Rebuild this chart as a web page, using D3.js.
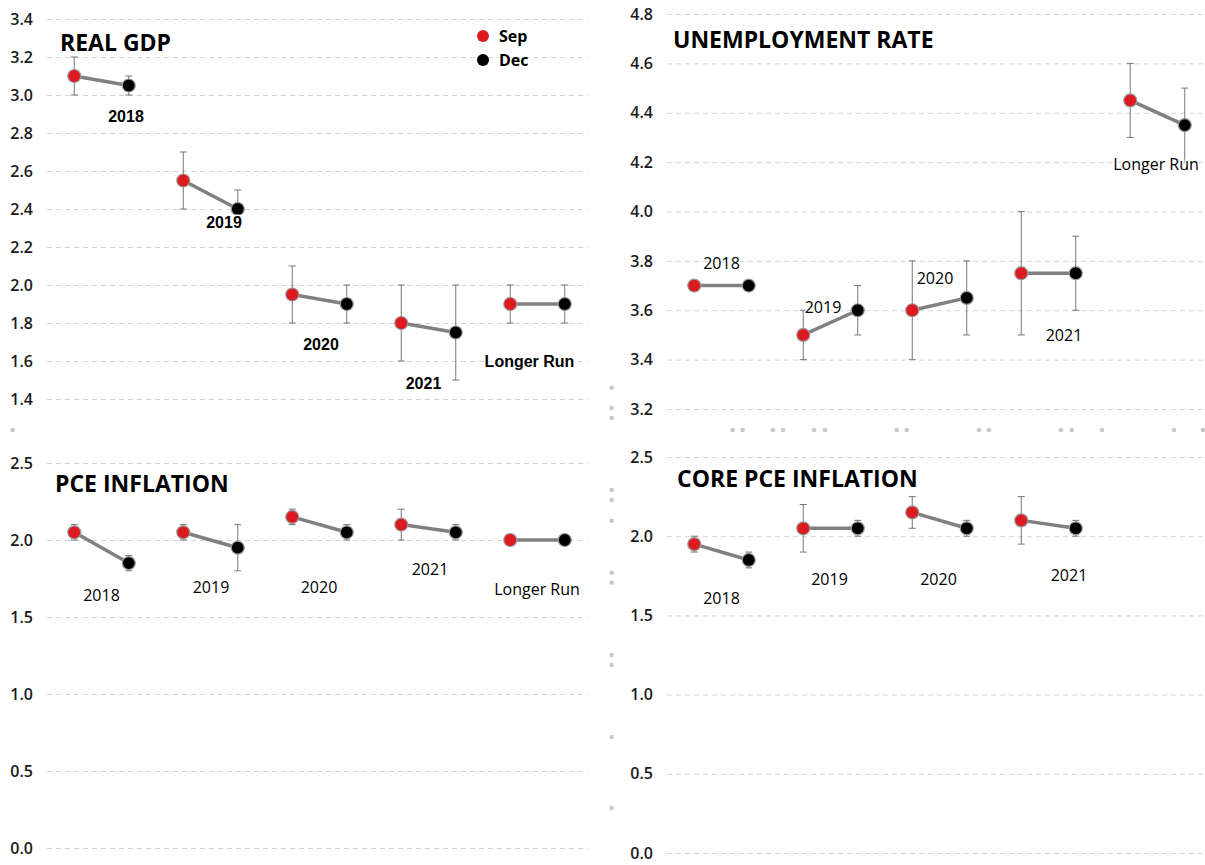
<!DOCTYPE html>
<html>
<head>
<meta charset="utf-8">
<script src="https://cdn.jsdelivr.net/npm/d3@7"></script>
<style>
  body { margin: 0; background: #fff; }
  svg { display: block; }
</style>
</head>
<body>
<div id="chart"></div>
<script>
// FOMC projections, September vs December (midpoint of central tendency + range)
const categories = ['2018', '2019', '2020', '2021', 'Longer Run'];
const releases = ['Sep', 'Dec'];

// Real GDP
const gdpSep = [3.1, 2.55, 1.95, 1.8, 1.9];
const gdpSepRange = [[3.0, 3.2], [2.4, 2.7], [1.8, 2.1], [1.6, 2.0], [1.8, 2.0]];
const gdpDec = [3.05, 2.4, 1.9, 1.75, 1.9];
const gdpDecRange = [[3.0, 3.1], [2.3, 2.5], [1.8, 2.0], [1.5, 2.0], [1.8, 2.0]];
const gdpTicks = [1.4, 1.6, 1.8, 2.0, 2.2, 2.4, 2.6, 2.8, 3.0, 3.2, 3.4];
const gdpLabelAt = [2.89, 2.33, 1.69, 1.48, 1.6];

// Unemployment rate
const unempSep = [3.7, 3.5, 3.6, 3.75, 4.45];
const unempSepRange = [[3.7, 3.7], [3.4, 3.6], [3.4, 3.8], [3.5, 4.0], [4.3, 4.6]];
const unempDec = [3.7, 3.6, 3.65, 3.75, 4.35];
const unempDecRange = [[3.7, 3.7], [3.5, 3.7], [3.5, 3.8], [3.6, 3.9], [4.2, 4.5]];
const unempTicks = [3.2, 3.4, 3.6, 3.8, 4.0, 4.2, 4.4, 4.6, 4.8];
const unempLabelAt = [3.79, 3.61, 3.73, 3.5, 4.19];

// PCE inflation
const pceSep = [2.05, 2.05, 2.15, 2.1, 2.0];
const pceSepRange = [[2.0, 2.1], [2.0, 2.1], [2.1, 2.2], [2.0, 2.2], [2.0, 2.0]];
const pceDec = [1.85, 1.95, 2.05, 2.05, 2.0];
const pceDecRange = [[1.8, 1.9], [1.8, 2.1], [2.0, 2.1], [2.0, 2.1], [2.0, 2.0]];
const pceTicks = [0.0, 0.5, 1.0, 1.5, 2.0, 2.5];
const pceLabelAt = [1.64, 1.69, 1.69, 1.81, 1.68];

// Core PCE inflation (no longer-run projection)
const coreSep = [1.95, 2.05, 2.15, 2.1, null];
const coreSepRange = [[1.9, 2.0], [1.9, 2.2], [2.05, 2.25], [1.95, 2.25], null];
const coreDec = [1.85, 2.05, 2.05, 2.05, null];
const coreDecRange = [[1.8, 1.9], [2.0, 2.1], [2.0, 2.1], [2.0, 2.1], null];
const coreTicks = [0.0, 0.5, 1.0, 1.5, 2.0, 2.5];
const coreLabelAt = [1.61, 1.73, 1.73, 1.75, null];

const RED = '#dc1a1f';
const FONT = '"Open Sans", "Noto Sans", sans-serif';

const svg = d3.select('#chart').append('svg')
    .attr('width', 1205)
    .attr('height', 865);

function drawPanel(p) {
    const g = svg.append('g');

    const x = d3.scaleBand().domain(categories).range(p.xRange);
    const sub = d3.scalePoint().domain(releases).range([0, x.bandwidth()]).padding(0.5);
    const y = d3.scaleLinear().domain(p.yDomain).range(p.yRange);

    // gridlines + tick labels
    const axis = d3.axisLeft(y).tickValues(p.ticks).tickFormat(d3.format('.1f'))
        .tickSize(-(p.gridEnd - p.xRange[0])).tickPadding(14);
    const ax = g.append('g').attr('transform', `translate(${p.xRange[0]},0)`).call(axis);
    ax.select('.domain').remove();
    ax.selectAll('.tick line')
        .attr('stroke', '#d4d4d4')
        .attr('stroke-dasharray', '5,4');
    ax.selectAll('.tick text')
        .attr('fill', '#1a1a1a')
        .style('font-family', FONT)
        .style('font-size', '16px')
        .style('font-weight', 600);

    // title
    g.append('text')
        .attr('x', p.titlePos[0]).attr('y', p.titlePos[1])
        .text(p.title)
        .style('font-family', FONT)
        .style('font-size', '23px')
        .style('font-weight', 700)
        .attr('fill', '#000');

    const rows = categories.map((c, i) => ({
        cat: c,
        sep: p.sep[i], sepR: p.sepR[i],
        dec: p.dec[i], decR: p.decR[i],
        lab: p.labelAt[i], dx: p.labelDx[i]
    })).filter(d => d.sep != null);

    const px = (d, r) => x(d.cat) + sub(r);

    // error bars
    rows.forEach(d => {
        [['Sep', d.sepR], ['Dec', d.decR]].forEach(([r, range]) => {
            const cx = px(d, r);
            const eb = g.append('g').attr('stroke', '#777').attr('stroke-width', 1);
            eb.append('line').attr('x1', cx).attr('x2', cx).attr('y1', y(range[0])).attr('y2', y(range[1]));
            range.forEach(v => {
                eb.append('line').attr('x1', cx - 3.5).attr('x2', cx + 3.5).attr('y1', y(v)).attr('y2', y(v));
            });
        });
    });

    // connecting lines
    g.selectAll('.conn').data(rows).join('line')
        .attr('x1', d => px(d, 'Sep')).attr('y1', d => y(d.sep))
        .attr('x2', d => px(d, 'Dec')).attr('y2', d => y(d.dec))
        .attr('stroke', '#808080')
        .attr('stroke-width', 3.5);

    // points
    g.selectAll('.sep').data(rows).join('circle')
        .attr('cx', d => px(d, 'Sep')).attr('cy', d => y(d.sep))
        .attr('r', 6.5).attr('fill', RED).attr('stroke', '#999').attr('stroke-width', 1.2);
    g.selectAll('.dec').data(rows).join('circle')
        .attr('cx', d => px(d, 'Dec')).attr('cy', d => y(d.dec))
        .attr('r', 6.5).attr('fill', '#000').attr('stroke', '#999').attr('stroke-width', 1.2);

    // category labels
    g.selectAll('.lab').data(rows).join('text')
        .attr('x', d => x(d.cat) + x.bandwidth() / 2 + d.dx)
        .attr('y', d => y(d.lab))
        .attr('dy', '0.35em')
        .attr('text-anchor', 'middle')
        .text(d => d.cat)
        .style('font-family', p.labelFont)
        .style('font-size', p.labelSize)
        .style('font-weight', p.labelWeight)
        .attr('fill', '#000')
        .attr('stroke', '#fff').attr('stroke-width', 3)
        .attr('paint-order', 'stroke');
}

drawPanel({
    title: 'REAL GDP', titlePos: [60, 51],
    xRange: [47, 592], gridEnd: 588,
    yDomain: [1.4, 3.4], yRange: [399, 19], ticks: gdpTicks,
    sep: gdpSep, sepR: gdpSepRange, dec: gdpDec, decR: gdpDecRange,
    labelAt: gdpLabelAt, labelDx: [24.5, 13.5, 1.5, -5, -8],
    labelFont: '"Liberation Sans", Arial, sans-serif', labelSize: '16px', labelWeight: 700
});

drawPanel({
    title: 'UNEMPLOYMENT RATE', titlePos: [673, 48],
    xRange: [667, 1212], gridEnd: 1205,
    yDomain: [3.2, 4.8], yRange: [409, 14], ticks: unempTicks,
    sep: unempSep, sepR: unempSepRange, dec: unempDec, decR: unempDecRange,
    labelAt: unempLabelAt, labelDx: [0, -7.5, -4.5, 15.5, -1.5],
    labelFont: FONT, labelSize: '16px', labelWeight: 400
});

drawPanel({
    title: 'PCE INFLATION', titlePos: [55, 492],
    xRange: [47, 592], gridEnd: 588,
    yDomain: [0, 2.5], yRange: [848, 463], ticks: pceTicks,
    sep: pceSep, sepR: pceSepRange, dec: pceDec, decR: pceDecRange,
    labelAt: pceLabelAt, labelDx: [0, 0.5, -0.5, 1.5, -0.5],
    labelFont: FONT, labelSize: '16px', labelWeight: 400
});

drawPanel({
    title: 'CORE PCE INFLATION', titlePos: [677, 487],
    xRange: [667, 1212], gridEnd: 1205,
    yDomain: [0, 2.5], yRange: [853, 457], ticks: coreTicks,
    sep: coreSep, sepR: coreSepRange, dec: coreDec, decR: coreDecRange,
    labelAt: coreLabelAt, labelDx: [0, -1, -1, 20.5, 0],
    labelFont: FONT, labelSize: '16px', labelWeight: 400
});

// legend
const legend = svg.append('g').attr('transform', 'translate(483,36)');
releases.forEach((r, i) => {
    legend.append('circle').attr('cx', 0).attr('cy', i * 24).attr('r', 6)
        .attr('fill', r === 'Sep' ? RED : '#000');
    legend.append('text').attr('x', 16).attr('y', i * 24).attr('dy', '0.35em')
        .text(r)
        .style('font-family', FONT).style('font-size', '16px').style('font-weight', 700);
});

// visual-frame handle dots left over between panels
const handleDots = [
    [12.7, 430], [611.7, 387.7], [611.7, 408], [611.7, 418],
    [611.7, 490], [611.7, 500], [611.7, 520.7], [611.7, 572.7], [611.7, 582.7],
    [611.7, 655], [611.7, 665], [611.7, 737], [611.7, 808],
    [732.7, 430], [742.7, 430], [773, 430], [783, 430], [814, 430], [825, 430],
    [896.7, 430], [906.7, 430], [979, 430], [989, 430], [1061, 430], [1071.7, 430],
    [1102, 430], [1174, 430], [1203, 430]
];
svg.append('g').selectAll('circle').data(handleDots).join('circle')
    .attr('cx', d => d[0]).attr('cy', d => d[1]).attr('r', 2.3).attr('fill', '#c8c8c8');
</script>
</body>
</html>
